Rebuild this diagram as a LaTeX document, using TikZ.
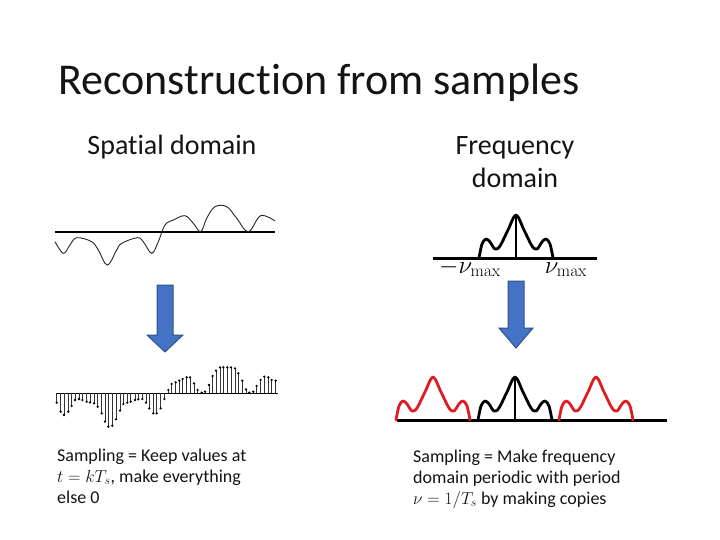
\documentclass[tikz,border=0pt]{standalone}
\usepackage[no-math]{fontspec}
\setmainfont{Carlito}[Ligatures=NoCommon]
\definecolor{arrfill}{RGB}{68,114,196}
\definecolor{arrline}{RGB}{47,82,143}
\definecolor{specred}{RGB}{222,28,36}
\definecolor{txt}{RGB}{20,20,20}
\tikzset{
  blockarrow/.style={fill=arrfill,draw=arrline,line width=1pt},
  axisline/.style={line width=1.4pt,black},
  specaxis/.style={line width=3pt,black},
  spec/.pic={
    \draw[line width=2.8pt,line join=round,line cap=round]
      plot[smooth,tension=0.55] coordinates {(-37,0) (-34,-14) (-30,-19) (-26,-16) (-21,-9) (-16,-12) (-8,-28) (0,-43) (8,-28) (16,-12) (21,-9) (26,-16) (30,-19) (34,-14) (37,0)};
  },
  stem/.style={line width=0.8pt,black!80},
  body/.style={font=\fontsize{18}{21.5}\selectfont,text=txt,inner sep=0pt,anchor=base west},
  head/.style={font=\fontsize{28}{33.6}\selectfont,text=txt,inner sep=0pt,anchor=base},
}
\begin{document}
\begin{tikzpicture}[x=1pt,y=-1pt]
\useasboundingbox[fill=white] (0,0) rectangle (720,540);

% title and headings
\node[font=\fontsize{44}{53}\selectfont,text=txt,inner sep=0pt,anchor=base west] (title) at (58,95) {Reconstruction from samples};
\node[head] (spatial) at (172,155) {Spatial domain};
\node[head] (freq1) at (515,155) {Frequency};
\node[head] (freq2) at (515,188) {domain};

% spatial signal
\coordinate (sa0) at (55,232);
\coordinate (sa1) at (275,232);
\draw[axisline] (sa0) -- (sa1);
\draw[line width=0.9pt,black!85] plot[smooth,tension=0.6] coordinates {(55,241.7) (63.3,253.3) (70,245) (76.7,237.7) (91.7,241.7) (98.3,250) (107.3,265) (116.7,250) (121.7,243.3) (137.3,237.7) (143.3,241.7) (151.7,253.3) (158.3,241.7) (165,225) (173.3,220) (185,215.7) (193.3,223.3) (200.7,231.7) (206.7,218.3) (215,206.7) (226.7,206.7) (236.7,218.3) (248.3,231.7) (260.7,215.7) (275,221)};

% sampled signal
\coordinate (sb0) at (56,393.3);
\coordinate (sb1) at (278,393.3);
\draw[axisline] (sb0) -- (sb1);
\foreach \zx/\zy in {20/128,32/155,42/165,55/155,65/138,75/120,87/117,97/120,110/125,120/127,132/130,143/140,155/160,165/185,175/200,187/197,198/178,210/152,220/132,232/128,242/125,255/120,265/118,277/117,288/128,298/145,310/160,320/160,332/145,343/117,355/90,365/72,377/67,388/62,398/57,410/52,420/52,432/70,443/90,455/98,465/95,477/75,488/48,498/32,510/22,520/22,532/22,543/22,555/25,565/40,577/62,588/88,598/98,610/95,620/78,632/60,643/50,655/52,665/60,677/62}{
  \draw[stem] ({50+\zx/3},393.3) -- ({50+\zx/3},{360+\zy/3});
  \fill ({50+\zx/3},{360+\zy/3}) circle (1.3);
}

% spectrum top
\coordinate (fa0) at (433,258);
\coordinate (fa1) at (597,258);
\draw[specaxis] (fa0) -- (fa1);
\pic (spectop) at (516,258) {spec};
\coordinate (stemtopb) at (516,258);
\coordinate (stemtopt) at (516,215);
\draw[line width=2.8pt] (stemtopb) -- (stemtopt);
\node[font=\fontsize{24}{28}\selectfont,inner sep=0pt,anchor=base] (numin) at (470,273) {$-\nu_{\max}$};
\node[font=\fontsize{24}{28}\selectfont,inner sep=0pt,anchor=base] (numax) at (566,273) {$\nu_{\max}$};

% arrows
\draw[blockarrow] (157,285) -- (173,285) -- (173,335) -- (183,335) -- (165,352) -- (147,335) -- (157,335) -- cycle;
\draw[blockarrow] (508,281) -- (524,281) -- (524,328) -- (533,328) -- (516,348) -- (499,328) -- (508,328) -- cycle;

% periodic spectrum
\coordinate (fb0) at (397,420);
\coordinate (fb1) at (667,420);
\draw[specaxis] (fb0) -- (fb1);
\pic[specred] (copyl) at (433,420) {spec};
\pic (copyc) at (515,420) {spec};
\pic[specred] (copyr) at (596,420) {spec};
\coordinate (stembotb) at (515,420);
\coordinate (stembott) at (515,377);
\draw[line width=2.8pt] (stembotb) -- (stembott);

% captions
\node[body] (l1) at (57,461) {Sampling = Keep values at};
\node[body] (l2) at (57,482) {$t = kT_s$, make everything};
\node[body] (l3) at (57,503) {else 0};
\node[body] (r1) at (413,462) {Sampling = Make frequency};
\node[body] (r2) at (413,483) {domain periodic with period};
\node[body] (r3) at (413,504) {$\nu = 1/T_s$ by making copies};
\end{tikzpicture}
\end{document}
